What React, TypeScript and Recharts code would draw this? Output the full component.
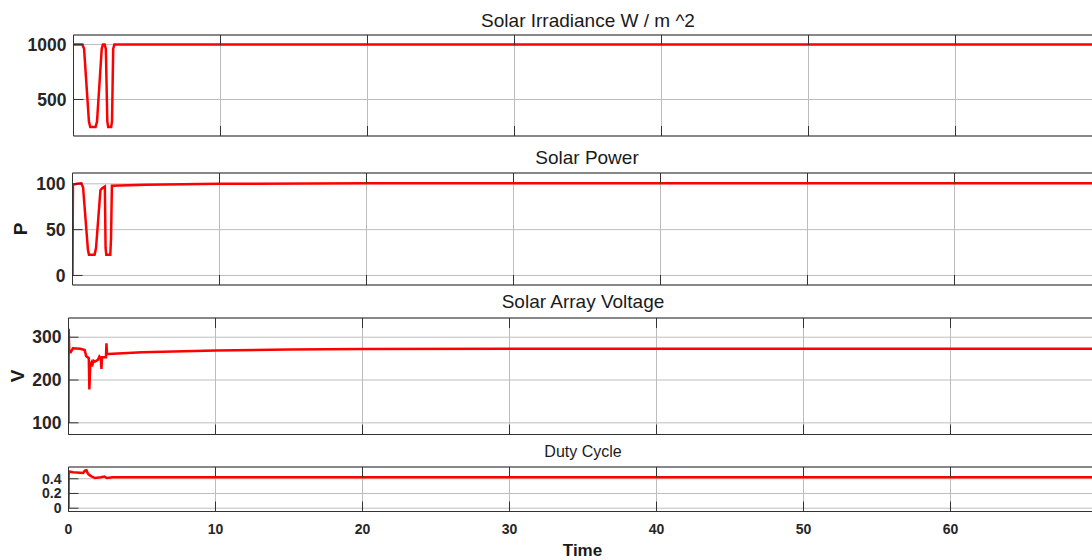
import React from 'react';
import { LineChart, Line, XAxis, YAxis, CartesianGrid } from 'recharts';

// time axis
const timeTicks = [0, 10, 20, 30, 40, 50, 60];

// Solar Irradiance W / m^2
const irradianceTime = [0, 0.6, 0.72, 1.05, 1.14, 1.5, 1.6, 1.92, 2.0, 2.12, 2.2, 2.3, 2.36, 2.56, 2.62, 2.7, 2.78, 70];
const irradianceValue = [1000, 1000, 960, 300, 250, 250, 300, 960, 1000, 1000, 960, 300, 250, 250, 300, 960, 1000, 1000];
const irradianceTicks = [500, 1000];

// Solar Power
const powerTime = [0, 0.03, 0.3, 0.6, 0.72, 1.05, 1.12, 1.5, 1.6, 1.9, 2.0, 2.2, 2.25, 2.3, 2.57, 2.62, 2.68, 5, 10, 20, 70];
const powerValue = [0, 99, 100, 100.5, 96, 28, 22.5, 22.5, 30, 93, 95, 97, 30, 22.5, 22.5, 40, 98, 99, 100, 100.5, 100.5];
const powerTicks = [0, 50, 100];

// Solar Array Voltage
const voltageTime = [0, 0.01, 0.05, 0.15, 0.3, 0.8, 1.1, 1.2, 1.38, 1.42, 1.48, 1.55, 1.6, 1.7, 1.8, 2.0, 2.1, 2.2, 2.24, 2.28, 2.55, 2.58, 2.62, 2.7, 5, 10, 15, 20, 30, 70];
const voltageValue = [100, 320, 265, 265, 274, 273, 270, 256, 251, 178, 235, 240, 232, 245, 243, 247, 255, 250, 226, 253, 253, 286, 261, 261, 265, 269, 271.5, 272.5, 273, 273];
const voltageTicks = [100, 200, 300];

// Duty Cycle
const dutyTime = [0, 0.01, 0.3, 1.0, 1.12, 1.22, 1.32, 1.5, 1.8, 2.2, 2.45, 2.6, 3, 70];
const dutyValue = [0, 0.5, 0.49, 0.48, 0.51, 0.515, 0.47, 0.44, 0.41, 0.42, 0.43, 0.41, 0.42, 0.42];
const dutyTicks = [0, 0.2, 0.4];

const FONT = '"Liberation Sans", Arial, Helvetica, sans-serif';
const AXIS = '#333333';
const GRID = '#bdbdbd';
const TEXT = '#262626';
const RED = '#ff0000';
const X_SPAN = 1029; // px from t=0 to t=70
const PAD = 12;

const toRows = (t: number[], v: number[]) => t.map((x, i) => ({ t: x, v: v[i] }));
const blank = () => '';

interface PanelProps {
  left: number;
  top: number;
  height: number;
  rows: { t: number; v: number }[];
  domain: [number, number];
  yTicks: number[];
  tickFont: number;
  showTime?: boolean;
}

const Panel: React.FC<PanelProps> = ({ left, top, height, rows, domain, yTicks, tickFont, showTime }) => {
  const bottomH = showTime ? 30 : 1;
  const tickStyle = { fill: TEXT, fontSize: tickFont, fontWeight: 700, fontFamily: FONT };
  const xTick = { fill: TEXT, fontSize: 14, fontWeight: 700, fontFamily: FONT };
  return (
    <div style={{ position: 'absolute', left: 0, top: top - PAD }}>
      <LineChart
        width={left + X_SPAN + 4}
        height={PAD + height + bottomH}
        data={rows}
        margin={{ top: PAD - 1, right: 4, bottom: 0, left: 0 }}
      >
        <CartesianGrid stroke={GRID} strokeWidth={1} />
        <XAxis
          dataKey="t"
          type="number"
          domain={[0, 70]}
          ticks={timeTicks}
          interval={0}
          allowDataOverflow
          height={bottomH}
          tick={xTick}
          tickFormatter={showTime ? undefined : blank}
          tickSize={-10}
          tickMargin={23}
          axisLine={{ stroke: AXIS }}
          tickLine={{ stroke: AXIS }}
        />
        <XAxis
          xAxisId="top"
          orientation="top"
          dataKey="t"
          type="number"
          domain={[0, 70]}
          ticks={timeTicks}
          interval={0}
          allowDataOverflow
          height={1}
          tick={xTick}
          tickFormatter={blank}
          tickSize={-10}
          axisLine={{ stroke: AXIS }}
          tickLine={{ stroke: AXIS }}
        />
        <YAxis
          type="number"
          domain={domain}
          ticks={yTicks}
          interval={0}
          allowDataOverflow
          width={left}
          tick={tickStyle}
          tickSize={-10}
          tickMargin={17}
          axisLine={{ stroke: AXIS }}
          tickLine={{ stroke: AXIS }}
        />
        <Line
          xAxisId="top"
          dataKey="v"
          type="linear"
          stroke="none"
          dot={false}
          activeDot={false}
          isAnimationActive={false}
        />
        <Line
          dataKey="v"
          type="linear"
          stroke={RED}
          strokeWidth={2.5}
          dot={false}
          isAnimationActive={false}
        />
      </LineChart>
    </div>
  );
};

const Title: React.FC<{ text: string; cx: number; baseline: number; size: number; bold?: boolean }> = ({ text, cx, baseline, size, bold }) => (
  <div
    style={{
      position: 'absolute',
      left: cx,
      top: baseline - 0.8465 * size,
      transform: 'translateX(-50%)',
      fontFamily: FONT,
      fontSize: size,
      lineHeight: `${size}px`,
      fontWeight: bold ? 700 : 400,
      color: '#1a1a1a',
      whiteSpace: 'nowrap',
    }}
  >
    {text}
  </div>
);

const SideLabel: React.FC<{ text: string; cx: number; cy: number }> = ({ text, cx, cy }) => (
  <div
    style={{
      position: 'absolute',
      left: cx,
      top: cy,
      transform: 'translate(-50%, -50%) rotate(-90deg)',
      fontFamily: FONT,
      fontSize: 19,
      lineHeight: '19px',
      fontWeight: 700,
      color: '#1a1a1a',
    }}
  >
    {text}
  </div>
);

export default function App() {
  return (
    <div style={{ position: 'fixed', left: 0, top: 0, width: 1092, height: 560, overflow: 'hidden', background: '#ffffff' }}>
      <Title text="Solar Irradiance W / m ^2" cx={73.5 + X_SPAN / 2} baseline={26.7} size={19} />
      <Panel left={73.5} top={34.5} height={101} rows={toRows(irradianceTime, irradianceValue)} domain={[168, 1086]} yTicks={irradianceTicks} tickFont={17.5} />

      <Title text="Solar Power" cx={72.5 + X_SPAN / 2} baseline={164} size={19} />
      <SideLabel text="P" cx={20} cy={229} />
      <Panel left={72.5} top={172.5} height={112} rows={toRows(powerTime, powerValue)} domain={[-10.4, 111.8]} yTicks={powerTicks} tickFont={17.5} />

      <Title text="Solar Array Voltage" cx={68.5 + X_SPAN / 2} baseline={308.5} size={19} />
      <SideLabel text="V" cx={17} cy={376} />
      <Panel left={68.5} top={317.5} height={116.5} rows={toRows(voltageTime, voltageValue)} domain={[72.7, 344.9]} yTicks={voltageTicks} tickFont={17.5} />

      <Title text="Duty Cycle" cx={68.5 + X_SPAN / 2} baseline={458} size={16} />
      <Panel left={68.5} top={466.5} height={44.5} rows={toRows(dutyTime, dutyValue)} domain={[-0.045, 0.56]} yTicks={dutyTicks} tickFont={14} showTime />
      <Title text="Time" cx={582.5} baseline={556} size={17} bold />
    </div>
  );
}
